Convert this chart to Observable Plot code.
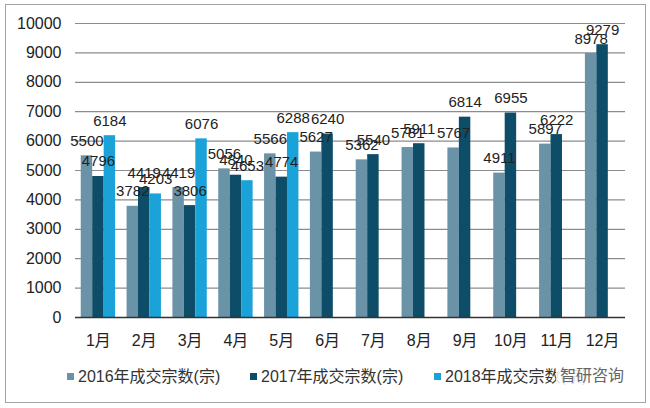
<!DOCTYPE html>
<html>
<head>
<meta charset="utf-8">
<script src="https://cdn.jsdelivr.net/npm/d3@7"></script>
<script src="https://cdn.jsdelivr.net/npm/@observablehq/plot@0.6"></script>
<style>
  html, body { margin: 0; padding: 0; background: #fff; }
  #wrap { position: relative; width: 650px; height: 408px; overflow: hidden; font-family: "Liberation Sans", "Noto Sans CJK SC", sans-serif; }
  #frame { position: absolute; left: 5px; top: 4px; width: 639px; height: 397px; border: 1.5px solid #a3a3a3; pointer-events: none; }
  .item { position: absolute; top: 368px; font-size: 16px; color: #333; white-space: nowrap; line-height: 18px; }
  .sw { display: inline-block; width: 7px; height: 7px; margin-right: 4px; vertical-align: 2px; }
  #wm { position: absolute; top: 366px; font-size: 16px; color: #666; white-space: nowrap; line-height: 20px; padding: 0 6px 0 4px;
        background: rgba(255,255,255,0.85); }
</style>
</head>
<body>
<div id="wrap"><div id="chart"></div><div id="frame"></div></div>
<script>
const months = ["1月","2月","3月","4月","5月","6月","7月","8月","9月","10月","11月","12月"];
const seriesNames = ["2016年成交宗数(宗)","2017年成交宗数(宗)","2018年成交宗数(宗)"];
const values2016 = [5500,3782,4419,5056,5566,5627,5362,5781,5767,4911,5897,8978];
const values2017 = [4796,4419,3806,4840,4774,6240,5540,5911,6814,6955,6222,9279];
const values2018 = [6184,4203,6076,4653,6288];
const yTicks = [0,1000,2000,3000,4000,5000,6000,7000,8000,9000,10000];
const colors = ["#6b93a8","#0d4d67","#1ba2d9"];

const data = [];
[values2016, values2017, values2018].forEach((arr, i) => {
  arr.forEach((v, j) => data.push({month: months[j], series: seriesNames[i], key: months[j] + "|" + i, value: v}));
});

// band domain: three slots per month, one empty slot between months
const xDomain = [];
months.forEach((m, j) => {
  seriesNames.forEach((s, i) => xDomain.push(m + "|" + i));
  if (j < months.length - 1) xDomain.push(m + "|gap");
});

const chart = Plot.plot({
  width: 650,
  height: 408,
  marginTop: 23,
  marginBottom: 91,
  marginLeft: 75,
  marginRight: 25,
  style: {fontFamily: "'Liberation Sans', 'Noto Sans CJK SC', sans-serif", fontSize: "16px", color: "#222", background: "transparent"},
  x: {domain: xDomain, paddingInner: 0, paddingOuter: 0.5, round: false, label: null, tickSize: 0, tickPadding: 17,
      ticks: months.map(m => m + "|1"), tickFormat: d => d.split("|")[0]},
  y: {domain: [0, 10000], ticks: yTicks, tickFormat: d => String(d), label: null, tickSize: 0, tickPadding: 14},
  color: {domain: seriesNames, range: colors},
  marks: [
    Plot.ruleY(yTicks.slice(1), {stroke: "#8c8c8c", strokeWidth: 1.2}),
    Plot.barY(data, {x: "key", y: "value", fill: "series"}),
    Plot.ruleY([0], {stroke: "#333", strokeWidth: 1.5}),
    Plot.text(data, {x: "key", y: "value", text: d => String(d.value), lineAnchor: "bottom", dy: -10, fontSize: 15, fill: "#222"})
  ]
});
document.getElementById("chart").appendChild(chart);

const wrap = document.getElementById("wrap");
const lefts = [67, 250, 434];
seriesNames.forEach((s, i) => {
  const el = document.createElement("div");
  el.className = "item";
  el.style.left = lefts[i] + "px";
  el.innerHTML = `<span class="sw" style="background:${colors[i]}"></span>${s}`;
  wrap.appendChild(el);
});
const wm = document.createElement("div");
wm.id = "wm";
wm.textContent = "智研咨询";
wm.style.left = "556px";
wrap.appendChild(wm);
</script>
</body>
</html>
